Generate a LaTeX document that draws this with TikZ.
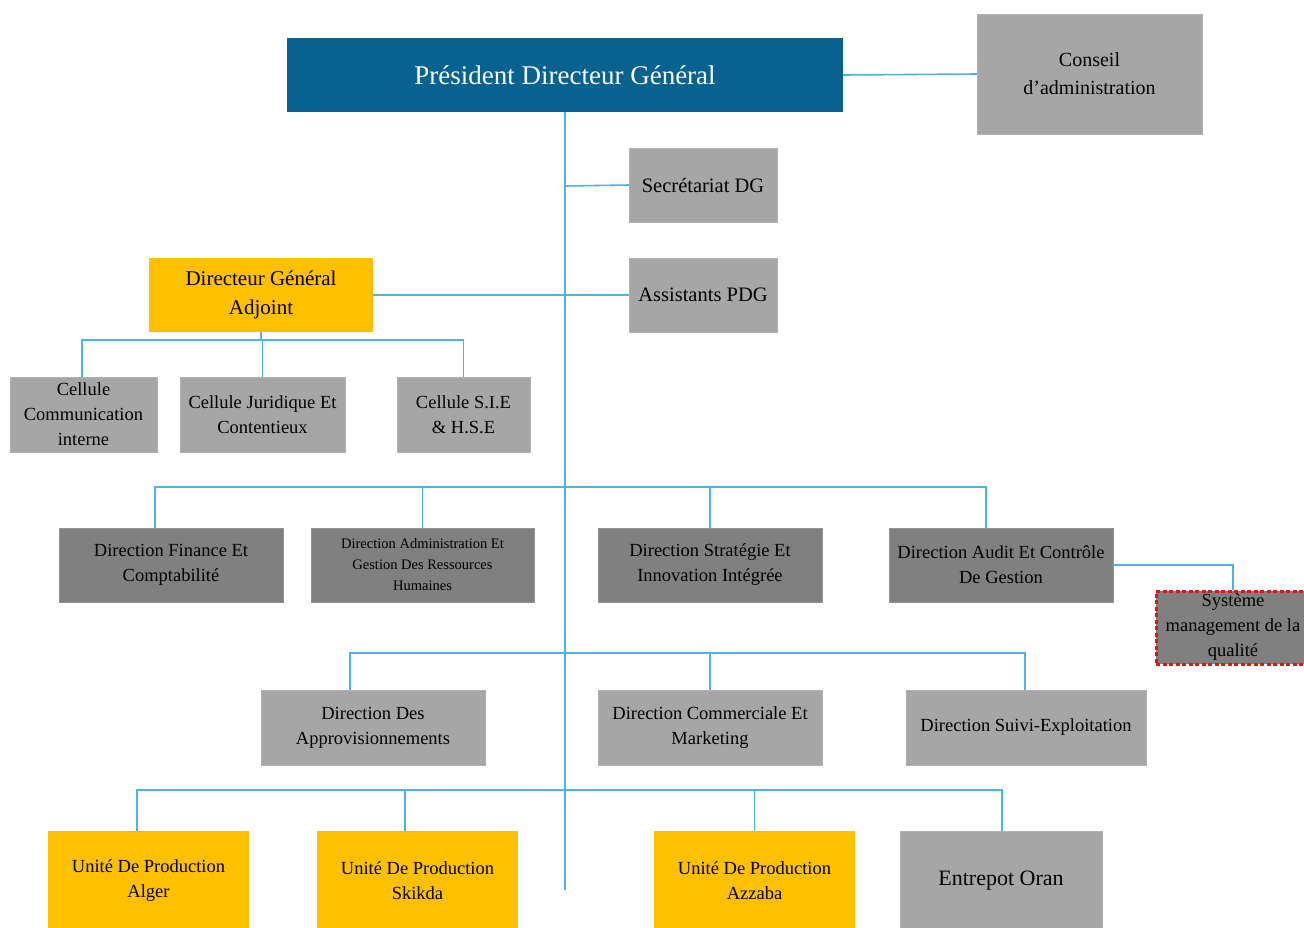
\documentclass[tikz,border=0pt]{standalone}
\usepackage{fontspec}
\setmainfont{LiberationSerif}[Extension=.ttf, UprightFont=*-Regular, BoldFont=*-Bold, ItalicFont=*-Italic]
\definecolor{pdgblue}{HTML}{07628F}
\definecolor{boxyellow}{HTML}{FFC000}
\definecolor{lightgrey}{HTML}{A6A6A6}
\definecolor{darkgrey}{HTML}{808080}
\definecolor{linkblue}{HTML}{4BB4E3}
\definecolor{qred}{HTML}{E01515}
\begin{document}
\begin{tikzpicture}[x=1pt,y=-1pt,
  box/.style={inner sep=0pt, align=center, font=\fontsize{18.5}{25}\selectfont},
  greybox/.style={box, fill=lightgrey, draw=lightgrey!85!white},
  darkbox/.style={box, fill=darkgrey, draw=darkgrey!85!white},
  yellowbox/.style={box, fill=boxyellow},
  link/.style={draw=linkblue, line width=1.6pt}]
\useasboundingbox (0,0) rectangle (1304,927);

% top level
\node[box, fill=pdgblue, text=white, minimum width=556, minimum height=74,
      font=\fontsize{27}{30}\selectfont] (pdg) at (565,75) {Président Directeur Général};
\node[greybox, minimum width=225, minimum height=120, font=\fontsize{20}{28}\selectfont]
      (ca) at (1089.5,74) {Conseil\\d’administration};
\node[greybox, minimum width=148, minimum height=74, font=\fontsize{20.5}{24}\selectfont]
      (sec) at (703,185) {Secrétariat DG};
\node[greybox, minimum width=148, minimum height=74, font=\fontsize{20.5}{24}\selectfont]
      (ass) at (703,295) {Assistants PDG};
\node[yellowbox, minimum width=224, minimum height=74, font=\fontsize{21}{29}\selectfont]
      (dga) at (261,295) {Directeur Général\\Adjoint};

% cells under the deputy
\node[greybox, minimum width=147, minimum height=75] (ccom) at (83.5,414.5)
      {Cellule\\Communication\\interne};
\node[greybox, minimum width=165, minimum height=75] (cjur) at (262.5,414.5)
      {Cellule Juridique Et\\Contentieux};
\node[greybox, minimum width=133, minimum height=75] (csie) at (463.5,414.5)
      {Cellule S.I.E\\\& H.S.E};

% directions, first row
\node[darkbox, minimum width=224, minimum height=74] (dfin) at (171,565)
      {Direction Finance Et\\Comptabilité};
\node[darkbox, minimum width=223, minimum height=74, font=\fontsize{14.5}{21}\selectfont]
      (darh) at (422.5,565) {Direction Administration Et\\Gestion Des Ressources\\Humaines};
\node[darkbox, minimum width=224, minimum height=74] (dstr) at (710,565)
      {Direction Stratégie Et\\Innovation Intégrée};
\node[darkbox, minimum width=224, minimum height=74] (daud) at (1001,565)
      {Direction Audit Et Contrôle\\De Gestion};
\node[box, fill=darkgrey, draw=qred, dash pattern=on 4pt off 2.5pt, line width=3pt,
      minimum width=154, minimum height=73] (smq) at (1233,627.5)
      {Système\\management de la\\qualité};

% directions, second row
\node[greybox, minimum width=224, minimum height=75] (dapp) at (373,727.5)
      {Direction Des\\Approvisionnements};
\node[greybox, minimum width=224, minimum height=75] (dcom) at (710,727.5)
      {Direction Commerciale Et\\Marketing};
\node[greybox, minimum width=240, minimum height=75] (dsui) at (1026,727.5)
      {Direction Suivi-Exploitation};

% production units
\node[yellowbox, minimum width=201, minimum height=100] (ualg) at (148.5,881)
      {Unité De Production\\Alger};
\node[yellowbox, minimum width=201, minimum height=100] (uski) at (417.5,881)
      {Unité De Production\\Skikda};
\node[yellowbox, minimum width=201, minimum height=100] (uazz) at (754.5,881)
      {Unité De Production\\Azzaba};
\node[greybox, minimum width=202, minimum height=100, font=\fontsize{22}{25}\selectfont]
      (eora) at (1001,881) {Entrepot Oran};

% trunk and junctions
\coordinate (tend) at (565,890);
\coordinate (jsec) at (565,186);
\coordinate (jr1) at (565,487);
\coordinate (jr2) at (565,653);
\coordinate (jr3) at (565,790);
\coordinate (jdga) at (261,340);

\path[link] (pdg.south) -- (tend);
\path[link] (pdg.east) -- (ca.west);
\path[link] (jsec) -- (sec.west);
\path[link] (dga.east) -- (ass.west);

% deputy's cells
\path[link] (dga.south) -- (jdga);
\path[link] ([xshift=-1.5]ccom.north) |- (jdga) -| (csie.north);
\path[link] (cjur.north) -- (cjur.north |- jdga);

% first row of directions
\path[link] ([xshift=-16]dfin.north) |- (jr1) -| ([xshift=-15]daud.north);
\path[link] (darh.north) -- (darh.north |- jr1);
\path[link] (dstr.north) -- (dstr.north |- jr1);
\path[link] (daud.east) -| (smq.north);

% second row of directions
\path[link] ([xshift=-23]dapp.north) |- (jr2) -| ([xshift=-1]dsui.north);
\path[link] (dcom.north) -- (dcom.north |- jr2);

% production units
\path[link] ([xshift=-11.5]ualg.north) |- (jr3) -| ([xshift=1]eora.north);
\path[link] ([xshift=-12.5]uski.north) -- ([xshift=-12.5]uski.north |- jr3);
\path[link] (uazz.north) -- (uazz.north |- jr3);
\end{tikzpicture}
\end{document}
